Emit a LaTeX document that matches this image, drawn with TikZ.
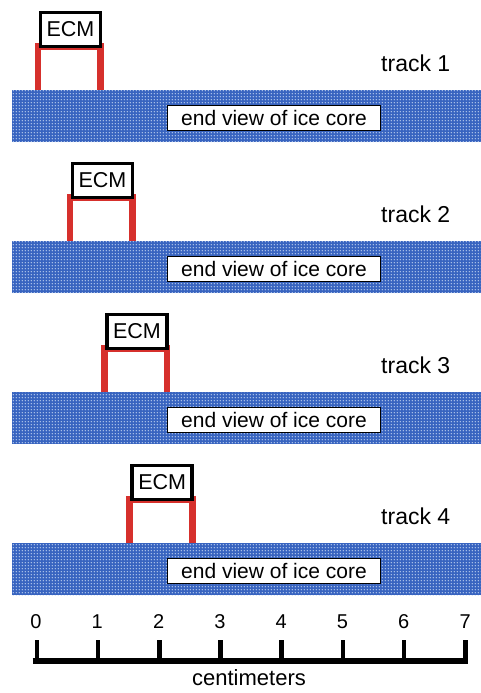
\documentclass[tikz,border=0pt]{standalone}
\usepackage{fontspec}
\setmainfont{Liberation Sans}
\usetikzlibrary{patterns.meta}

\definecolor{iceblue}{RGB}{56,100,192}
\definecolor{icedot}{RGB}{205,220,245}
\definecolor{legred}{RGB}{214,48,44}

% fine dotted texture for the ice core
\tikzdeclarepattern{
  name=icedots, type=uncolored,
  bounding box={(0pt,0pt) and (3.2pt,3.2pt)},
  tile size={(3.2pt,3.2pt)},
  code={\fill (1.6pt,1.6pt) circle (0.75pt);}
}

\begin{document}
\begin{tikzpicture}[x=1pt,y=-1pt,
  corebar/.style={fill=iceblue, postaction={pattern=icedots, pattern color=icedot},
    minimum width=469pt, minimum height=52pt, inner sep=0pt, outer sep=0pt},
  corelabel/.style={draw=black, line width=1pt, fill=white, minimum width=213pt,
    minimum height=25pt, inner sep=0pt, outer sep=0pt, font=\fontsize{21}{21}\selectfont},
  ecmbox/.style={draw=black, line width=3.5pt, fill=white, minimum width=60pt,
    minimum height=34pt, inner sep=0pt, outer sep=0pt, font=\fontsize{21.5}{21.5}\selectfont},
  leg/.style={draw=legred, line width=6.5pt},
  tracklabel/.style={anchor=west, inner sep=0pt, font=\fontsize{23}{23}\selectfont},
  ruler/.style={line width=5.7pt},
  tick/.style={line width=4.5pt},
  num/.style={inner sep=0pt, font=\fontsize{20}{20}\selectfont},
  unit/.style={inner sep=0pt, font=\fontsize{22}{22}\selectfont}]

\useasboundingbox (0,0) rectangle (481,693);

% four tracks: ECM electrodes placed across the end of the core
\foreach \i/\L in {1/38,2/70,3/104.5,4/129.7}{
  \pgfmathsetmacro{\top}{90+151*(\i-1)}
  \node[corebar] (bar\i) at (246.5,\top+26) {};
  \node[corelabel] (core\i) at (274,\top+28) {end view of ice core};
  \node[ecmbox] (ecm\i) at (\L+32.5,\top-60.5) {ECM};
  \coordinate (footL\i) at (\L,\top);
  \coordinate (footR\i) at (\L+62.7,\top);
  \draw[leg] (footL\i) |- (ecm\i.south) -| (footR\i);
  \node[ecmbox] at (ecm\i) {ECM};
  \node[tracklabel] (track\i) at (381,\top-27) {track \i};
}

% scale bar
\coordinate (axL) at (32.7,661.2);
\coordinate (axR) at (467.7,661.2);
\draw[ruler] (axL) -- (axR);
\foreach \k in {0,...,7}{
  \coordinate (tk\k) at (36.9+61.2*\k,640);
  \draw[tick] (tk\k) -- (tk\k |- axL);
  \node[num] (n\k) at (36+61.3*\k,622) {\k};
}
\node[unit] (cm) at (249,678) {centimeters};
\end{tikzpicture}
\end{document}
